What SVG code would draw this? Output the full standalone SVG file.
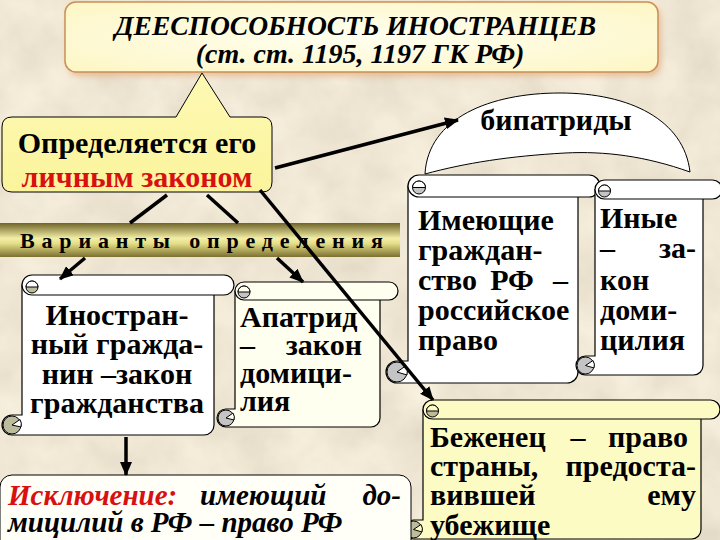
<svg xmlns="http://www.w3.org/2000/svg" width="720" height="540" viewBox="0 0 720 540">
<defs>
<filter id="paper" x="0" y="0" width="100%" height="100%">
<feTurbulence type="fractalNoise" baseFrequency="0.018" numOctaves="4" seed="7"/>
<feColorMatrix type="matrix" values="0.30 0 0 0 0.74  0.30 0 0 0 0.68  0.30 0 0 0 0.56  0 0 0 0 1"/>
</filter>
<filter id="soft" x="-10%" y="-10%" width="120%" height="140%">
<feGaussianBlur stdDeviation="3"/>
</filter>
<linearGradient id="bar" x1="0" y1="0" x2="0" y2="1">
<stop offset="0" stop-color="#6f6428"/>
<stop offset="0.45" stop-color="#f2eea6"/>
<stop offset="0.6" stop-color="#e6df88"/>
<stop offset="1" stop-color="#7c7030"/>
</linearGradient>
<radialGradient id="titleFill" cx="0.5" cy="0.5" r="0.7">
<stop offset="0" stop-color="#fffff0"/>
<stop offset="1" stop-color="#fdf6c4"/>
</radialGradient>
<linearGradient id="callFill" x1="0" y1="0" x2="0" y2="1">
<stop offset="0" stop-color="#fdf9b4"/>
<stop offset="1" stop-color="#fbf49c"/>
</linearGradient>
<marker id="arr" markerUnits="userSpaceOnUse" markerWidth="14" markerHeight="12" refX="13" refY="6" orient="auto">
<path d="M0,0 L14,6 L0,12 Z" fill="#000"/>
</marker>
<style>
.t{font-family:"Liberation Serif","Times New Roman",serif;font-weight:bold;fill:#000}
.s30{font-size:30px}
.it{font-style:italic}
.red{fill:#d81010}
.edge{stroke:#000;stroke-width:1}
.scroll{fill:#fff;stroke:#000;stroke-width:1.2}
.scrollY{fill:#fdfbc4;stroke:#000;stroke-width:1.2}
.scrollC{fill:#fffff0;stroke:#000;stroke-width:1.2}
.curl{fill:#c4c4c4;stroke:#000;stroke-width:1}
.curlG{fill:#bcbc9c;stroke:#000;stroke-width:1}
.hole{stroke:#000;stroke-width:1}
.con{stroke:#000;stroke-width:3.5;fill:none}
</style>
</defs>

<rect x="0" y="0" width="720" height="540" fill="#dfcfac"/>
<rect x="0" y="0" width="720" height="540" filter="url(#paper)" opacity="0.85"/>

<g id="title">
<rect x="68" y="6" width="593" height="70" rx="11" fill="#e0a070" opacity="0.6" filter="url(#soft)"/>
<rect x="65" y="2" width="593" height="70" rx="11" fill="url(#titleFill)" stroke="#c98f55" stroke-width="1.5"/>
<text class="t it" font-size="27.5" x="355.5" y="35" text-anchor="middle">ДЕЕСПОСОБНОСТЬ ИНОСТРАНЦЕВ</text>
<text class="t it" font-size="28" x="360" y="63" text-anchor="middle">(ст. ст. 1195, 1197 ГК РФ)</text>
</g>

<g id="callout">
<path d="M12,117 H176 L202,73 L230,117 H262 Q272,117 272,127 V182 Q272,192 262,192 H12 Q2,192 2,182 V127 Q2,117 12,117 Z" fill="url(#callFill)" class="edge"/>
<text class="t s30" x="137" y="153" text-anchor="middle">Определяется его</text>
<text class="t s30 red" x="137" y="187" text-anchor="middle">личным законом</text>
</g>

<g id="variants">
<rect x="0" y="223" width="400" height="34" fill="url(#bar)"/>
<text class="t" font-size="22" x="20" y="248" textLength="363" lengthAdjust="spacing">Варианты определения</text>
</g>

<g id="bipatridy">
<path d="M425,174 C428,118 490,93 560,93 C630,93 684,120 690,172 C645,156 605,151 565,153 C510,156 465,163 425,174 Z" fill="#fff" class="edge"/>
<text class="t s30" x="556" y="130" text-anchor="middle">бипатриды</text>
</g>

<g id="foreign-citizen">
<path d="M22,285 H214 V425 A10,10 0 0 1 204,435 H12 A10,10 0 0 1 12,415 H22 Z" class="scroll"/>
<rect x="22" y="275" width="212" height="20" rx="10" class="scroll"/>
<circle cx="32" cy="287" r="6" class="curlG"/>
<path d="M26,287 A6,6 0 0 1 38,287 Z" fill="#fff" class="hole"/>
<circle cx="12" cy="425" r="9" class="curlG"/>
<path d="M12,425 L20,419.5 A9.5,9.5 0 0 1 21,427 Z" fill="#fff" class="hole"/>
<text class="t s30" x="117" y="325" text-anchor="middle">Иностран-</text>
<text class="t s30" x="117" y="354" text-anchor="middle">ный гражда-</text>
<text class="t s30" x="117" y="384" text-anchor="middle">нин –закон</text>
<text class="t s30" x="117" y="413" text-anchor="middle">гражданства</text>
</g>

<g id="apatrid">
<path d="M235,291 H380 V418 A9,9 0 0 1 371,427 H226 A9,9 0 0 1 226,409 H235 Z" class="scrollC"/>
<rect x="235" y="282" width="163" height="18" rx="9" class="scrollC"/>
<circle cx="244" cy="292" r="6" class="curl"/>
<path d="M238,292 A6,6 0 0 1 250,292 Z" fill="#fffff0" class="hole"/>
<circle cx="226" cy="418" r="8" class="curl"/>
<path d="M226,418 L233,413 A8.5,8.5 0 0 1 234,420 Z" fill="#fffff0" class="hole"/>
<text class="t s30" x="240" y="327">Апатрид</text>
<text class="t s30" x="240" y="355">–</text>
<text class="t s30" x="362" y="355" text-anchor="end">закон</text>
<text class="t s30" x="240" y="383">домици-</text>
<text class="t s30" x="240" y="411">лия</text>
</g>

<g id="russian-citizens">
<path d="M408,186 H578 V372 A11,11 0 0 1 567,383 H397 A11,11 0 0 1 397,361 H408 Z" class="scroll"/>
<rect x="408" y="175" width="192" height="22" rx="11" class="scroll"/>
<circle cx="419" cy="187.5" r="6.5" class="curl"/>
<path d="M412.5,187.5 A6.5,6.5 0 0 1 425.5,187.5 Z" fill="#fff" class="hole"/>
<circle cx="397" cy="372" r="10" class="curl"/>
<path d="M397,372 L405.5,366 A10.5,10.5 0 0 1 407,375 Z" fill="#fff" class="hole"/>
<text class="t s30" x="418" y="230">Имеющие</text>
<text class="t s30" x="418" y="260">граждан-</text>
<text class="t s30" x="418" y="290">ство</text>
<text class="t s30" x="512" y="290" text-anchor="middle">РФ</text>
<text class="t s30" x="568" y="290" text-anchor="end">–</text>
<text class="t s30" x="418" y="320">российское</text>
<text class="t s30" x="418" y="350">право</text>
</g>

<g id="others">
<path d="M595,189.5 H703 V365.5 A9.5,9.5 0 0 1 693.5,375 H585.5 A9.5,9.5 0 0 1 585.5,356 H595 Z" class="scroll"/>
<rect x="595" y="180" width="127" height="19" rx="9.5" class="scroll"/>
<circle cx="604.5" cy="191" r="6" class="curl"/>
<path d="M598.5,191 A6,6 0 0 1 610.5,191 Z" fill="#fff" class="hole"/>
<circle cx="585.5" cy="365.5" r="8.5" class="curl"/>
<path d="M585.5,365.5 L593,360.5 A9,9 0 0 1 594,368 Z" fill="#fff" class="hole"/>
<text class="t s30" x="600" y="228">Иные</text>
<text class="t s30" x="600" y="258">–</text>
<text class="t s30" x="696" y="258" text-anchor="end">за-</text>
<text class="t s30" x="600" y="290">кон</text>
<text class="t s30" x="600" y="320">доми-</text>
<text class="t s30" x="600" y="350">цилия</text>
</g>

<g id="refugee">
<path d="M423,409.5 H701 V529.5 A9.5,9.5 0 0 1 691.5,539 H413.5 A9.5,9.5 0 0 1 413.5,520 H423 Z" class="scrollY"/>
<rect x="423" y="400" width="297" height="19" rx="9.5" class="scrollY"/>
<circle cx="432.5" cy="411" r="6" class="curlG"/>
<path d="M426.5,411 A6,6 0 0 1 438.5,411 Z" fill="#fdfbc4" class="hole"/>
<circle cx="413.5" cy="529.5" r="8.5" class="curlG"/>
<path d="M413.5,529.5 L421,524.5 A9,9 0 0 1 422,532 Z" fill="#fdfbc4" class="hole"/>
<text class="t s30" x="430" y="447">Беженец</text>
<text class="t s30" x="578" y="447" text-anchor="middle">–</text>
<text class="t s30" x="688" y="447" text-anchor="end">право</text>
<text class="t s30" x="430" y="476">страны,</text>
<text class="t s30" x="696" y="476" text-anchor="end">предоста-</text>
<text class="t s30" x="430" y="505">вившей</text>
<text class="t s30" x="696" y="505" text-anchor="end">ему</text>
<text class="t s30" x="430" y="535">убежище</text>
</g>

<g id="exception">
<rect x="0" y="475" width="411" height="80" rx="12" fill="#fffff8" class="edge"/>
<text class="t it red" font-size="29" x="8" y="505">Исключение:</text>
<text class="t it" font-size="29" x="200" y="505">имеющий</text>
<text class="t it" font-size="29" x="401" y="505" text-anchor="end">до-</text>
<text class="t it" font-size="29" x="8" y="532">мицилий в РФ – право РФ</text>
</g>

<g id="connectors">
<line class="con" x1="275" y1="168" x2="458" y2="120" marker-end="url(#arr)"/>
<line class="con" x1="167" y1="195" x2="130" y2="223"/>
<line class="con" x1="207" y1="195" x2="238" y2="223"/>
<line class="con" x1="85" y1="258" x2="60" y2="279" marker-end="url(#arr)"/>
<line class="con" x1="277" y1="258" x2="303" y2="282" marker-end="url(#arr)"/>
<line class="con" x1="260" y1="190" x2="433" y2="400" marker-end="url(#arr)"/>
<line class="con" x1="126" y1="437" x2="126" y2="475" marker-end="url(#arr)"/>
</g>
</svg>
